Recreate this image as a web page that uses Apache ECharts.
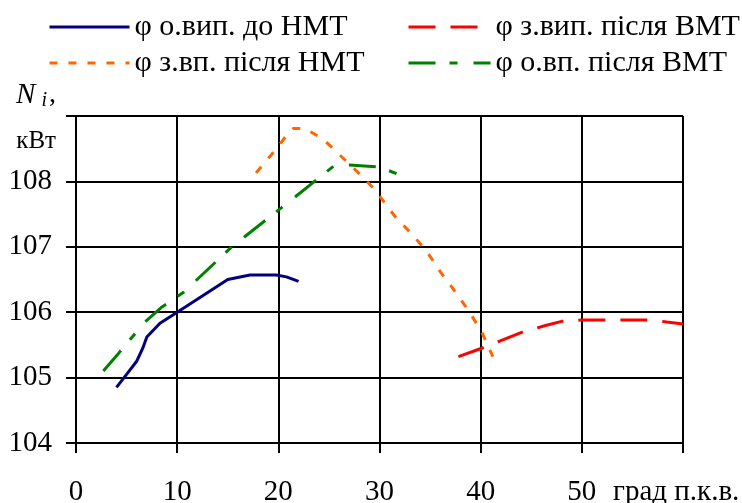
<!DOCTYPE html>
<html lang="uk">
<head>
    <meta charset="UTF-8">
    <title>Ni</title>
    <script type="text/javascript" src="https://cdnjs.cloudflare.com/ajax/libs/echarts/6.0.0/echarts.min.js"></script>
    <style>
        html, body { margin: 0; padding: 0; background: #fff; }
    </style>
</head>
<body>
    <div id="main" style="width: 742px;height:503px;"></div>
    <script type="text/javascript">
        const FONT = '"Liberation Serif", "DejaVu Serif", serif';

        // назви кривих
        const names = ['φ о.вип. до НМТ', 'φ з.вип. після ВМТ', 'φ з.вп. після НМТ', 'φ о.вп. після ВМТ'];

        // кут, град п.к.в. / потужність, кВт
        const blueDeg = [4, 5, 6, 6.6, 7, 8.3, 10, 12.6, 15, 17.2, 19.8, 20.8, 22];
        const blueNi = [104.85, 105.05, 105.25, 105.45, 105.62, 105.83, 106.0, 106.26, 106.5, 106.57, 106.57, 106.54, 106.47];

        const redDeg = [37.8, 40.3, 44.2, 46.5, 48, 50, 57, 58.4, 60];
        const redNi = [105.32, 105.46, 105.7, 105.8, 105.86, 105.88, 105.88, 105.85, 105.82];

        const orangeDeg = [17.8, 19.7, 20.8, 21.5, 22.6, 24.4, 26.1, 28, 29.5, 31.6, 33.3, 34.8, 36, 37.6, 38.9, 40.1, 41.2];
        const orangeNi = [108.13, 108.48, 108.7, 108.81, 108.81, 108.65, 108.4, 108.12, 107.88, 107.45, 107.18, 106.9, 106.62, 106.29, 106.0, 105.7, 105.32];

        const greenDeg = [2.7, 4.2, 6.8, 8.5, 10.6, 15.4, 20.5, 25.6, 27, 30, 32];
        const greenNi = [105.1, 105.37, 105.85, 106.08, 106.3, 107.0, 107.62, 108.25, 108.25, 108.22, 108.1];

        function pairs(xs, ys) {
            return xs.map(function (x, i) { return [x, ys[i]]; });
        }

        const axisBlack = { color: '#000', width: 2 };

        function legendBlock(left, width, data) {
            return {
                orient: 'vertical',
                left: left,
                top: 9,
                padding: 0,
                itemGap: 0,
                itemWidth: width,
                itemHeight: 14,
                data: data,
                lineStyle: { width: 3 },
                itemStyle: { opacity: 0 },
                textStyle: { fontFamily: FONT, fontSize: 30, color: '#000', lineHeight: 36 }
            };
        }

        const myChart = echarts.init(document.getElementById('main'));
        const option = {
            animation: false,
            textStyle: { fontFamily: FONT, color: '#000' },
            grid: { left: 76, right: 59, top: 116, bottom: 60, containLabel: false, outerBoundsMode: 'none' },
            legend: [
                legendBlock(48, 80, [names[0], names[2]]),
                legendBlock(407, 82, [names[1], names[3]])
            ],
            xAxis: {
                type: 'value',
                min: 0,
                max: 60,
                interval: 10,
                name: 'град п.к.в.',
                nameLocation: 'end',
                nameGap: -70,
                nameTextStyle: {
                    fontFamily: FONT, fontSize: 29, color: '#000',
                    align: 'left', verticalAlign: 'top', padding: [35, 0, 0, 0]
                },
                axisLine: { show: true, lineStyle: axisBlack },
                axisTick: { show: true, inside: false, length: 10, lineStyle: axisBlack },
                splitLine: { show: true, lineStyle: axisBlack },
                axisLabel: {
                    margin: 35,
                    fontFamily: FONT, fontSize: 29, color: '#000',
                    showMaxLabel: true,
                    formatter: function (v) { return v === 60 ? '' : String(v); }
                }
            },
            yAxis: {
                type: 'value',
                min: 104,
                max: 109,
                interval: 1,
                name: '{n|N}{s|i}{c|,}\n{u|кВт}',
                nameLocation: 'end',
                nameGap: -2,
                nameTextStyle: {
                    align: 'right',
                    verticalAlign: 'middle',
                    padding: [0, 20, 0, 0],
                    rich: {
                        n: { fontFamily: FONT, fontStyle: 'italic', fontSize: 29, lineHeight: 46, color: '#000' },
                        s: { fontFamily: FONT, fontStyle: 'italic', fontSize: 20, lineHeight: 46, color: '#000', padding: [12, 0, 0, 6] },
                        c: { fontFamily: FONT, fontSize: 28, lineHeight: 46, color: '#000', padding: [0, 0, 0, 2] },
                        u: { fontFamily: FONT, fontSize: 25, lineHeight: 46, color: '#000' }
                    }
                },
                axisLine: { show: true, lineStyle: axisBlack },
                axisTick: { show: true, inside: false, length: 10, lineStyle: axisBlack },
                splitLine: { show: true, lineStyle: axisBlack },
                axisLabel: {
                    margin: 24,
                    fontFamily: FONT, fontSize: 29, color: '#000',
                    formatter: function (v) { return v === 109 ? '' : String(v); }
                }
            },
            series: [{
                name: names[0],
                type: 'line',
                data: pairs(blueDeg, blueNi),
                symbol: 'none',
                lineStyle: { color: '#000080', width: 3 },
                itemStyle: { color: '#000080' }
            }, {
                name: names[1],
                type: 'line',
                data: pairs(redDeg, redNi),
                symbol: 'none',
                lineStyle: { color: '#ff0000', width: 3, type: [27, 15], cap: 'butt' },
                itemStyle: { color: '#ff0000' }
            }, {
                name: names[2],
                type: 'line',
                data: pairs(orangeDeg, orangeNi),
                symbol: 'none',
                lineStyle: { color: '#ff6600', width: 3, type: [8, 11], cap: 'butt' },
                itemStyle: { color: '#ff6600' }
            }, {
                name: names[3],
                type: 'line',
                data: pairs(greenDeg, greenNi),
                symbol: 'none',
                lineStyle: { color: '#008000', width: 3, type: [27, 14, 8, 16], cap: 'butt' },
                itemStyle: { color: '#008000' }
            }]
        };
        myChart.setOption(option);
    </script>
</body>
</html>
